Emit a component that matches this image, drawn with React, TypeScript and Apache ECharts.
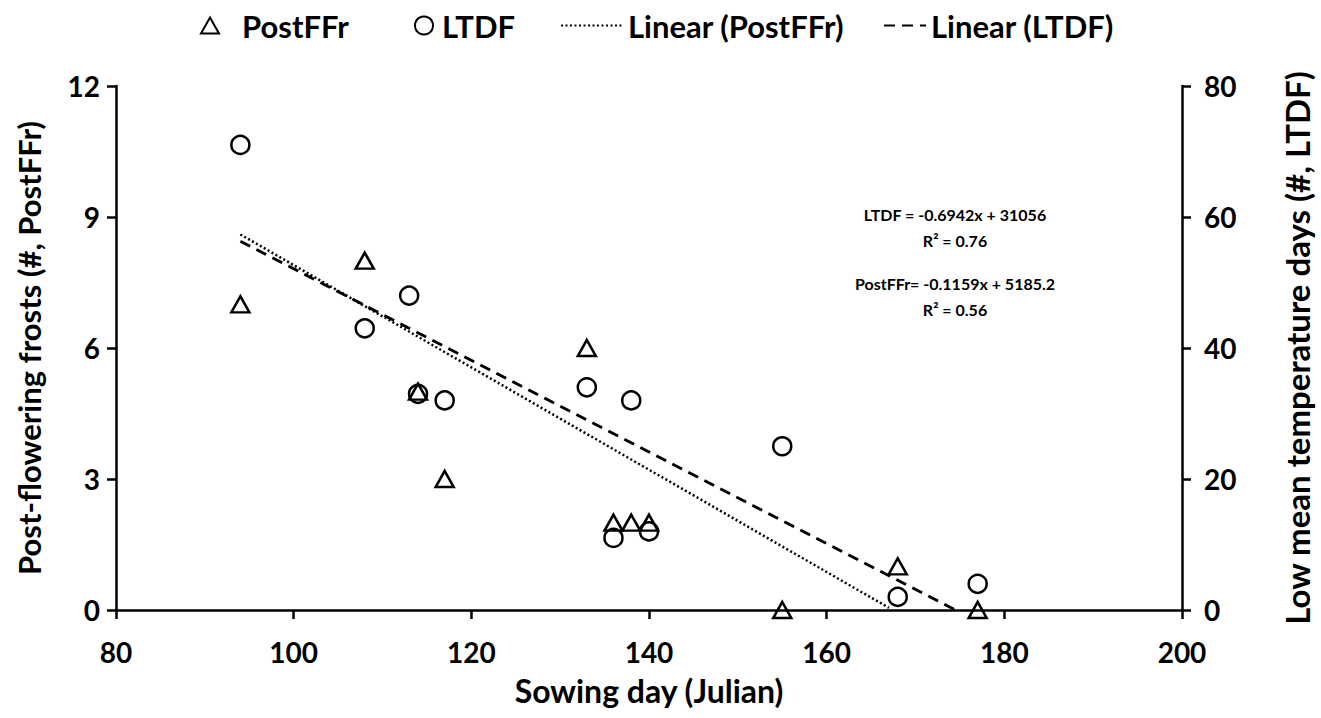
import React, { useEffect, useRef } from 'react';
import * as echarts from 'echarts';

// Sowing day (Julian) and values
const sowingPostFFr = [94, 108, 114, 117, 133, 136, 138, 140, 155, 168, 177];
const postFFr = [7, 8, 5, 3, 6, 2, 2, 2, 0, 1, 0];
const sowingLTDF = [94, 108, 113, 114, 117, 133, 136, 138, 140, 155, 168, 177];
const ltdf = [71, 43, 48, 33, 32, 34, 11, 32, 12, 25, 2, 4];

// Trend line end points
const trendPostFFrX = [94, 167];
const trendPostFFrY = [8.6, 0.05];
const trendLTDFX = [94, 174.5];
const trendLTDFY = [56.3, 0];

const annotationLines = [
  'LTDF = -0.6942x + 31056',
  'R² = 0.76',
  'PostFFr= -0.1159x + 5185.2',
  'R² = 0.56',
];

const FONT = 'Lato';

const zip = (xs: number[], ys: number[]) => xs.map((x, i) => [x, ys[i]]);

export default function App() {
  const ref = useRef<HTMLDivElement>(null);
  useEffect(() => {
    if (!ref.current) return;
    const chart = echarts.init(ref.current, undefined, { renderer: 'svg' });
    const axisLine = { show: true, lineStyle: { color: '#000', width: 2.5 } };
    const axisTick = { show: true, inside: false, length: 9, lineStyle: { color: '#000', width: 2.5 } };
    const labelStyle = { color: '#000', fontSize: 28, fontWeight: 'bold' as const, fontFamily: FONT };
    const nameStyle = (size: number) => ({ color: '#000', fontSize: size, fontWeight: 'bold' as const, fontFamily: FONT });
    const mkLegend = (name: string, left: number, w: number, h: number, padLeft: number, hideSymbol: boolean) => ({
      data: [name],
      left,
      top: 10,
      padding: 0,
      itemWidth: w,
      itemHeight: h,
      textStyle: { color: '#000', fontSize: 31, fontWeight: 'bold' as const, fontFamily: FONT, padding: [0, 0, 0, padLeft] },
      selectedMode: false,
      ...(hideSymbol ? { itemStyle: { color: 'rgba(0,0,0,0)', borderWidth: 0, opacity: 0 } } : {}),
    });
    const annY = [214, 240, 283, 309];
    chart.setOption({
      animation: false,
      backgroundColor: '#fff',
      grid: { left: 116, right: 138, top: 86, bottom: 108, containLabel: false },
      legend: [
        mkLegend('PostFFr', 200, 18, 16, 18, false),
        mkLegend('LTDF', 414, 18, 18, 4, false),
        mkLegend('Linear (PostFFr)', 560, 62, 16, 0, true),
        mkLegend('Linear (LTDF)', 883, 42, 16, 0, true),
      ],
      xAxis: {
        type: 'value',
        min: 80,
        max: 200,
        interval: 20,
        name: 'Sowing day (Julian)',
        nameLocation: 'middle',
        nameGap: 64,
        nameTextStyle: nameStyle(32),
        axisLine,
        axisTick,
        axisLabel: { ...labelStyle, margin: 28 },
        splitLine: { show: false },
      },
      yAxis: [
        {
          type: 'value',
          min: 0,
          max: 12,
          interval: 3,
          name: 'Post-flowering frosts (#, PostFFr)',
          nameLocation: 'middle',
          nameGap: 72,
          nameTextStyle: nameStyle(31),
          axisLine,
          axisTick,
          axisLabel: { ...labelStyle, margin: 16 },
          splitLine: { show: false },
        },
        {
          type: 'value',
          min: 0,
          max: 80,
          interval: 20,
          position: 'right',
          name: 'Low mean temperature days (#, LTDF)',
          nameLocation: 'middle',
          nameGap: 98,
          nameRotate: 90,
          nameTextStyle: nameStyle(33),
          axisLine,
          axisTick,
          axisLabel: { ...labelStyle, margin: 22 },
          splitLine: { show: false },
        },
      ],
      series: [
        {
          name: 'Linear (PostFFr)',
          type: 'line',
          yAxisIndex: 0,
          data: zip(trendPostFFrX, trendPostFFrY),
          symbol: 'none',
          lineStyle: { color: '#000', width: 2.5, type: [2, 2.5] },
          z: 1,
        },
        {
          name: 'Linear (LTDF)',
          type: 'line',
          yAxisIndex: 1,
          data: zip(trendLTDFX, trendLTDFY),
          symbol: 'none',
          lineStyle: { color: '#000', width: 3, type: [11, 7] },
          z: 1,
        },
        {
          name: 'LTDF',
          type: 'scatter',
          yAxisIndex: 1,
          data: zip(sowingLTDF, ltdf),
          symbol: 'circle',
          symbolSize: 18,
          itemStyle: { color: 'rgba(255,255,255,0)', borderColor: '#000', borderWidth: 2.5, opacity: 1 },
          z: 3,
        },
        {
          name: 'PostFFr',
          type: 'scatter',
          yAxisIndex: 0,
          data: zip(sowingPostFFr, postFFr),
          symbol: 'triangle',
          symbolSize: [18, 16],
          itemStyle: { color: 'rgba(255,255,255,0)', borderColor: '#000', borderWidth: 2.5, opacity: 1 },
          z: 4,
        },
      ],
      graphic: annotationLines.map((t, i) => ({
        type: 'text',
        x: 955,
        y: annY[i],
        style: {
          text: t,
          fill: '#000',
          fontSize: 16,
          fontWeight: 'bold',
          fontFamily: FONT,
          align: 'center',
          verticalAlign: 'middle',
          textAlign: 'center',
          textVerticalAlign: 'middle',
        },
      })),
    });
    return () => chart.dispose();
  }, []);
  return (
    <div
      ref={ref}
      style={{ position: 'fixed', left: 0, top: 0, width: 1321, height: 718, background: '#fff' }}
    />
  );
}
